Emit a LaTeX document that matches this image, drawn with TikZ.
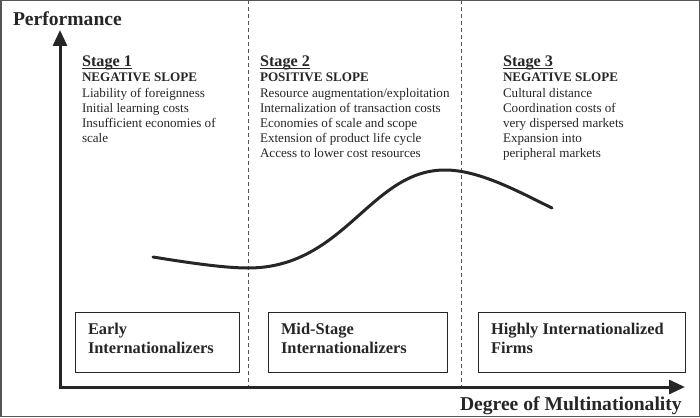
\documentclass[tikz,border=0pt]{standalone}
\usepackage{fontspec}
\setmainfont{Liberation Serif}
\usetikzlibrary{arrows.meta}
\definecolor{ink}{HTML}{262626}
\definecolor{frame}{HTML}{555555}
\begin{document}
\begin{tikzpicture}[x=1pt,y=-1pt,
  every node/.style={inner sep=0pt,outer sep=0pt,text=ink},
  axislabel/.style={font=\fontsize{19.6}{22}\selectfont\bfseries,anchor=base west},
  stagehead/.style={font=\fontsize{16.2}{18}\selectfont\bfseries,anchor=base west},
  stagetext/.style={font=\fontsize{13.1}{15}\selectfont,anchor=base west},
  uline/.style={draw=ink,line width=1pt},
  boxframe/.style={draw=ink,line width=1pt,minimum width=164pt,minimum height=60pt},
  boxtext/.style={font=\fontsize{16.4}{19.5}\selectfont\bfseries,anchor=base west},
  divider/.style={draw=frame,line width=1pt,dash pattern=on 4pt off 3pt},
  axis/.style={draw=ink,line width=3pt,-{Triangle[length=16pt,width=14pt]}},
  curve/.style={draw=ink,line width=3pt,line cap=round}]
\useasboundingbox (0,0) rectangle (700,417);
\draw[frame,line width=1.5pt] (0.75,0.75) rectangle (699.25,416.25);
% dividers
\coordinate (d1t) at (248,0); \coordinate (d1b) at (248,387);
\coordinate (d2t) at (461,0); \coordinate (d2b) at (461,387);
\draw[divider] (d1t) -- (d1b);
\draw[divider] (d2t) -- (d2b);
% axes
\coordinate (origin) at (60,387);
\coordinate (ytip) at (60,30);
\coordinate (xtip) at (685,387);
\draw[axis] ([yshift=1.5pt]origin) -- (ytip);
\draw[axis] ([xshift=-1.5pt]origin) -- (xtip);
\node[axislabel] (ylab) at (13,26) {Performance};
\node[axislabel] (xlab) at (460,410) {Degree of Multinationality};
% stage 1
\node[stagehead] (s1) at (82,66.5) {Stage 1};
\draw[uline] ([yshift=-2pt]s1.base west) -- ([yshift=-2pt]s1.base east);
\node[stagetext] (s1a) at (82,82) {\textbf{NEGATIVE SLOPE}};
\node[stagetext] (s1b) at (82,97) {Liability of foreignness};
\node[stagetext] (s1c) at (82,112) {Initial learning costs};
\node[stagetext] (s1d) at (82,127) {Insufficient economies of};
\node[stagetext] (s1e) at (82,142) {scale};
% stage 2
\node[stagehead] (s2) at (260,66.5) {Stage 2};
\draw[uline] ([yshift=-2pt]s2.base west) -- ([yshift=-2pt]s2.base east);
\node[stagetext] (s2a) at (260,82) {\textbf{POSITIVE SLOPE}};
\node[stagetext] (s2b) at (260,97) {Resource augmentation/exploitation};
\node[stagetext] (s2c) at (260,112) {Internalization of transaction costs};
\node[stagetext] (s2d) at (260,127) {Economies of scale and scope};
\node[stagetext] (s2e) at (260,142) {Extension of product life cycle};
\node[stagetext] (s2f) at (260,157) {Access to lower cost resources};
% stage 3
\node[stagehead] (s3) at (503,66.5) {Stage 3};
\draw[uline] ([yshift=-2pt]s3.base west) -- ([yshift=-2pt]s3.base east);
\node[stagetext] (s3a) at (503,82) {\textbf{NEGATIVE SLOPE}};
\node[stagetext] (s3b) at (503,97) {Cultural distance};
\node[stagetext] (s3c) at (503,112) {Coordination costs of};
\node[stagetext] (s3d) at (503,127) {very dispersed markets};
\node[stagetext] (s3e) at (503,142) {Expansion into};
\node[stagetext] (s3f) at (503,157) {peripheral markets};
% curve
\coordinate (c0) at (153,257);
\coordinate (cmin) at (248,268);
\coordinate (cmax) at (445,170);
\coordinate (cend) at (552,208);
\draw[curve] (c0) .. controls (190,263) and (225,268) .. (cmin)
  .. controls (345,268) and (370,170) .. (cmax)
  .. controls (480,170) and (520,192.5) .. (cend);
% boxes
\node[boxframe] (b1) at (157,342) {};
\node[boxframe,minimum width=179pt] (b2) at (357.5,342) {};
\node[boxframe,minimum width=207pt] (b3) at (581.5,342) {};
\node[boxtext] (b1a) at (88,334) {Early};
\node[boxtext] (b1b) at (88,353) {Internationalizers};
\node[boxtext] (b2a) at (281,334) {Mid-Stage};
\node[boxtext] (b2b) at (281,353) {Internationalizers};
\node[boxtext] (b3a) at (491,334) {Highly Internationalized};
\node[boxtext] (b3b) at (491,353) {Firms};
\end{tikzpicture}
\end{document}
